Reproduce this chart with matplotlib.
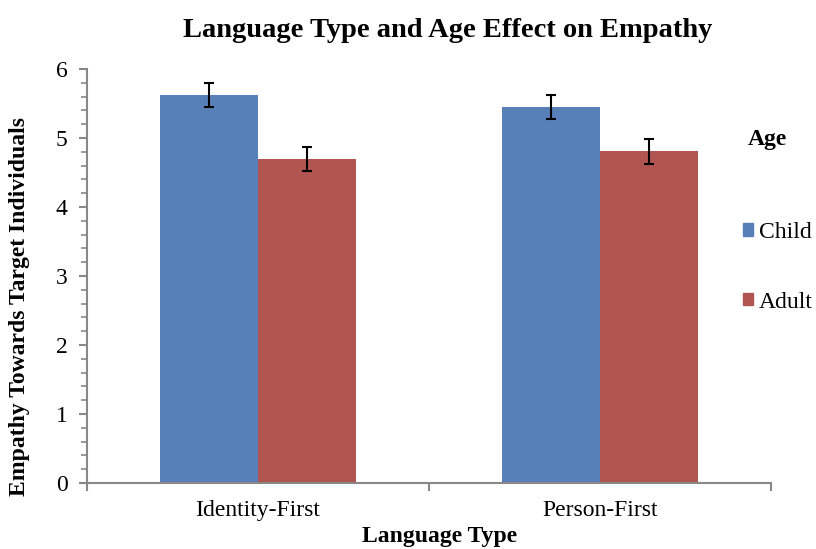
import matplotlib.pyplot as plt
import numpy as np
from matplotlib.ticker import MultipleLocator
from matplotlib.patches import Patch

plt.rcParams['font.family'] = ['Liberation Serif', 'DejaVu Serif']

# Data
categories = ['Identity-First', 'Person-First']
ages = ['Child', 'Adult']
child_means = [5.62, 5.45]
adult_means = [4.70, 4.81]
child_err = [0.175, 0.18]
adult_err = [0.175, 0.18]

colors = ['#5880b8', '#b05550']
axis_gray = '#888888'

fig = plt.figure(figsize=(8.16, 5.49), dpi=100)
ax = fig.add_axes([0.1066, 0.1202, 0.8383, 0.7541])

x = np.arange(len(categories))
w = 0.286
ekw = dict(ecolor='black', elinewidth=1.5, capsize=3.3, capthick=1.5)
ax.bar(x - w / 2, child_means, w, color=colors[0], yerr=child_err, error_kw=ekw)
ax.bar(x + w / 2, adult_means, w, color=colors[1], yerr=adult_err, error_kw=ekw)

# Axes styling
ax.set_xlim(-0.5, 1.5)
ax.set_ylim(0, 6)
ax.yaxis.set_major_locator(MultipleLocator(1))
ax.yaxis.set_minor_locator(MultipleLocator(0.2))
ax.set_xticks([-0.5, 0.5, 1.5])
ax.set_xticklabels([])
ax.set_xticks(x, minor=True)
ax.set_xticklabels(categories, minor=True, fontsize=17)
ax.tick_params(axis='x', which='minor', length=0, pad=12)
ax.tick_params(axis='x', which='major', length=6, color=axis_gray, width=1.5, direction='out')
ax.tick_params(axis='y', which='major', length=6, color=axis_gray, width=1.5, labelsize=17, pad=8)
ax.tick_params(axis='y', which='minor', length=4, color=axis_gray, width=1.2)

for s in ['top', 'right']:
    ax.spines[s].set_visible(False)
for s in ['left', 'bottom']:
    ax.spines[s].set_color(axis_gray)
    ax.spines[s].set_linewidth(1.5)

fig.text(0.548, 0.945, 'Language Type and Age Effect on Empathy',
         ha='center', va='center', fontsize=20.5, fontweight='bold')
fig.text(0.539, 0.022, 'Language Type', ha='center', va='center',
         fontsize=17, fontweight='bold')
fig.text(0.024, 0.441, 'Empathy Towards Target Individuals', ha='center', va='center',
         rotation=90, fontsize=17, fontweight='bold')

# Legend
fig.text(0.941, 0.745, 'Age', ha='center', va='center', fontsize=17, fontweight='bold')
handles = [Patch(color=c) for c in colors]
fig.legend(handles, ages, loc='upper left', bbox_to_anchor=(0.899, 0.613),
           frameon=False, fontsize=17, handlelength=0.42, handleheight=0.42,
           handletextpad=0.25, labelspacing=2.06, borderaxespad=0)

plt.savefig('out.png', dpi=100)
plt.close()
